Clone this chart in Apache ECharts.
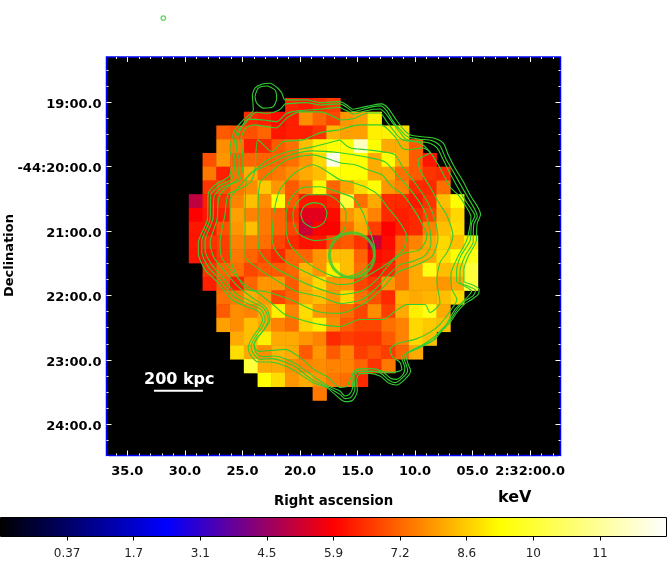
<!DOCTYPE html>
<html><head><meta charset="utf-8"><style>html,body{margin:0;background:#fff}#c{width:667px;height:561px}</style>
<script src="https://cdn.jsdelivr.net/npm/echarts@6/dist/echarts.min.js"></script></head><body><div id="c"></div>
<script>
// temperature map in keV: first image column of each image row, then its values
const rowFirstColumn=[13,10,8,8,7,7,7,6,6,6,6,6,7,7,8,8,8,9,9,10,11,15];
const firstRow=3, imageColumns=33, imageRows=29;
const rowKeV=[
[6.2,6.0,6.3,6.5],
[6.26,6.12,5.86,6.12,7.57,7.04,6.65,7.7,7.83,8.88],
[6.91,6.78,6.78,7.04,6.0,6.12,6.12,6.39,8.1,7.83,7.83,8.88,8.88,8.62],
[7.57,7.31,6.12,6.26,6.91,7.18,8.23,8.88,9.07,9.07,11.57,9.07,7.96,7.96,6.91],
[6.78,7.7,6.91,7.04,7.04,7.04,7.18,7.7,8.56,12.1,9.07,9.07,7.96,9.07,7.96,6.91,6.0],
[7.31,6.12,7.18,7.96,7.18,7.31,7.57,7.96,8.23,9.33,9.07,9.07,7.96,7.96,7.18,6.91,6.39,6.26],
[6.39,6.78,7.31,7.57,8.36,7.7,6.91,7.44,8.95,7.04,7.83,8.62,9.07,7.7,7.44,6.26,6.26,7.18],
[4.88,6.12,6.39,7.44,8.23,7.57,9.2,6.91,6.0,6.0,6.26,9.86,7.18,7.96,6.26,6.26,6.0,6.39,8.23,9.07],
[5.73,6.0,6.12,7.83,7.44,7.31,7.04,6.39,5.34,5.34,5.86,7.7,8.1,7.44,6.26,6.12,6.26,6.65,7.96,8.56],
[6.0,6.0,6.78,7.7,8.23,7.31,7.04,6.65,5.05,5.73,5.73,7.18,7.96,6.52,5.73,6.12,6.26,7.44,8.23,8.62],
[6.0,6.39,6.52,7.44,7.31,7.18,6.65,6.26,5.93,6.0,6.78,6.91,6.39,5.01,5.86,7.04,7.44,7.96,8.56,8.23,8.88],
[6.0,6.12,6.52,7.31,7.04,6.65,6.26,7.04,7.04,7.7,8.23,8.23,7.04,5.86,6.0,7.18,7.96,7.96,8.62,9.07,9.33],
[6.39,7.04,7.18,6.65,6.91,6.91,7.04,8.1,7.7,8.88,8.23,7.18,6.0,6.26,7.18,7.96,9.33,8.23,8.36,9.86],
[6.12,6.91,6.12,7.04,7.7,7.7,6.91,7.96,8.56,7.7,7.7,6.65,6.39,7.7,7.18,7.96,7.96,7.7,7.96,9.86],
[7.18,7.31,7.96,7.7,6.65,7.04,7.96,8.23,7.7,8.56,7.18,6.78,6.26,8.1,7.96,8.1,8.23,8.56],
[6.91,7.57,7.44,7.96,8.88,7.44,8.62,7.7,7.44,7.18,6.65,7.57,6.52,7.96,8.88,9.33,7.96],
[7.83,7.57,8.23,7.96,7.44,7.18,8.49,8.88,7.57,6.91,6.65,6.65,7.18,7.44,8.56,8.36,8.23],
[7.96,8.23,8.88,7.96,7.96,7.7,7.44,6.26,6.52,6.39,6.39,6.91,7.44,8.56,8.23],
[8.62,7.96,7.57,8.1,7.96,6.91,7.7,6.91,7.44,6.52,6.78,6.52,7.04,7.96],
[9.86,7.96,7.96,7.57,7.44,7.57,7.44,7.44,7.04,6.39,7.31],
[9.07,8.62,7.7,7.96,7.7,7.31,7.18,6.26],
[7.31]];
// contours, in image-bin coordinates (x, y, x, y ...)
const contourA=[10.60,2.76,10.79,2.27,11.28,1.98,11.88,1.91,12.37,2.20,12.73,2.59,12.97,3.12,14.55,3.12,15.52,3.32,16.97,3.25,17.46,3.49,17.94,3.80,18.66,3.65,19.39,3.49,20.0,3.41,20.48,3.73,20.97,4.45,21.57,5.25,22.06,5.66,22.78,5.79,23.75,5.90,24.48,6.27,24.84,7.12,25.33,8.08,25.93,9.06,26.42,10.02,27.02,10.99,27.19,11.47,26.95,12.08,26.90,13.05,26.90,13.29,26.29,14.50,25.98,15.47,25.98,16.32,26.54,16.56,27.09,16.92,27.02,17.28,26.54,17.65,25.98,18.01,25.45,18.61,24.96,19.34,24.24,20.07,23.87,20.55,23.02,20.99,22.18,21.40,21.74,21.64,21.93,22.37,22.11,22.85,21.69,23.46,21.09,23.87,20.48,23.70,19.88,23.22,19.15,23.02,18.42,23.04,18.18,23.46,18.23,24.31,17.89,24.98,17.33,25.08,16.97,24.87,16.0,24.06,15.03,23.70,13.70,22.85,12.85,22.44,11.88,22.20,11.03,22.20,10.55,21.81,10.30,21.15,10.55,20.50,11.10,19.70,11.35,19.10,11.03,18.50,10.07,18.13,9.10,17.65,8.12,16.43,7.16,15.47,6.67,14.26,6.67,13.53,7.33,11.84,7.40,9.90,8.01,9.22,8.92,8.69,9.10,7.48,8.97,6.75,9.34,5.30,9.94,4.58,10.67,3.85];
const contourB=[12.97,3.41,14.55,3.32,15.52,3.49,16.97,3.41,17.46,3.65,17.94,3.97,18.66,3.80,19.39,3.61,19.93,3.56,20.36,3.90,20.80,4.63,21.45,5.42,21.93,5.83,22.78,5.98,23.63,6.08,24.24,6.46,24.65,7.36,25.20,8.33,25.74,9.30,26.29,10.26,26.78,11.11,26.95,11.60,26.71,12.13,26.66,13.05,26.66,13.41,26.05,14.50,25.69,15.59,25.69,16.39,26.29,16.68,26.83,16.97,26.66,17.36,26.05,17.77,25.57,18.25,25.09,18.98,24.72,19.46,24.0,20.19,23.75,20.60,22.91,21.08,21.93,21.52,21.57,21.76,21.82,22.49,21.89,22.85,21.53,23.33,20.97,23.70,20.53,23.53,19.93,23.02,19.15,22.85,18.30,22.90,17.99,23.33,18.06,24.18,17.75,24.79,17.33,24.86,16.97,24.55,15.76,23.87,14.91,23.46,13.82,22.61,12.97,22.20,12.01,21.95,11.16,22.0,10.72,21.64,10.50,21.08,10.79,20.43,11.28,19.70,11.54,19.10,11.23,18.37,10.31,17.96,9.22,17.41,8.30,16.25,7.40,15.27,6.92,14.14,6.92,13.41,7.52,11.84,7.59,10.02,8.20,9.37,9.10,8.86,9.34,7.48,9.22,6.75,9.51,5.42,10.14,4.77,10.87,4.02,11.69,4.09,12.49,3.90];
const contourC=[16.97,3.65,15.52,3.80,14.06,3.90,13.10,4.09,12.37,4.70,11.40,4.58,10.31,4.52,9.58,5.66,9.46,6.75,9.65,7.48,9.46,8.93,8.37,9.54,7.83,10.15,7.72,11.84,7.16,13.41,7.16,14.02,7.65,15.11,8.49,16.07,9.34,17.16,10.48,17.77,11.40,18.25,11.76,19.10,11.45,19.83,10.96,20.43,10.72,21.08,10.96,21.64,11.40,21.81,12.12,21.76,13.10,22.0,13.94,22.44,15.03,23.22,15.64,23.65,16.12,23.94,16.97,24.31,17.33,24.67,17.65,24.55,17.89,24.06,17.82,23.26,18.18,22.73,19.15,22.68,20.0,22.85,20.65,23.38,21.09,23.46,21.57,23.09,21.69,22.61,21.45,21.88,22.06,21.40,23.02,20.92,23.75,20.43,24.48,19.83,24.84,19.22,25.33,18.37,25.81,17.89,26.29,17.41,26.54,17.04,26.05,16.68,25.45,16.32,25.45,15.59,25.74,14.50,26.42,13.41,26.47,13.05,26.54,12.08,26.78,11.55,26.54,11.11,26.05,10.38,25.49,9.42,24.96,8.45,24.48,7.48,24.04,6.63,23.51,6.27,22.66,6.15,21.82,6.03,21.28,5.42,20.73,4.70,20.24,4.05,19.88,3.78,19.39,3.80,18.66,3.97,17.94,4.16,17.46,3.90];
const contourHole=[10.79,2.88,11.03,2.27,11.64,2.11,12.25,2.40,12.37,3.00,12.12,3.61,11.40,3.72,10.92,3.36];
const contourD=[16.97,4.58,17.91,4.50,19.0,4.07,19.88,4.07,20.38,4.72,21.11,5.66,21.55,6.03,22.78,6.25,23.51,6.90,24.24,8.06,24.96,9.44,25.55,10.02,26.05,10.75,26.49,11.62,26.20,13.29,25.55,14.52,25.04,15.83,25.11,16.92,25.47,17.65,24.96,18.52,24.24,19.46,23.51,20.04,22.42,20.55,21.18,20.84,20.60,21.28,20.82,21.86,21.33,22.22,21.47,22.73,20.82,22.95,19.37,22.88,18.20,22.88,17.70,23.46,17.48,23.97,16.97,24.04,16.10,23.31,15.08,22.73,14.06,21.86,12.97,21.28,11.95,21.35,11.01,21.42,10.72,20.92,11.01,20.41,11.88,19.10,11.59,18.23,10.57,17.50,9.56,16.70,8.61,15.61,7.81,14.60,7.52,13.51,8.03,11.84,8.18,10.17,8.98,9.30,9.70,8.93,9.92,7.48,9.77,6.03,10.14,5.16,10.79,4.94,12.32,5.16,13.12,4.43,14.06,3.99,15.52,3.99];
const contourE=[16.97,5.30,18.42,4.94,19.95,4.94,20.97,5.81,21.47,6.61,21.91,6.75,23.0,6.61,23.51,6.97,22.64,7.48,22.78,8.21,23.51,9.44,24.24,10.75,24.75,11.55,25.18,13.0,24.75,14.23,24.24,14.96,24.02,16.41,24.24,17.86,23.51,18.59,23.15,18.01,21.84,18.01,20.97,18.52,20.09,19.10,18.42,19.10,16.97,19.61,15.52,19.46,14.06,19.10,12.97,18.74,12.10,18.01,11.16,17.28,10.07,16.56,9.12,15.61,8.39,14.60,8.25,13.51,8.61,11.47,8.83,10.02,9.56,9.66,10.43,9.15,10.79,8.21,11.01,6.03,12.03,6.90,12.83,6.17,14.28,6.03,15.52,5.52];
const contourF=[16.97,6.03,17.70,6.61,18.93,6.75,20.09,6.90,20.97,7.12,21.55,8.06,22.42,9.15,23.36,10.60,23.87,11.84,24.09,13.29,23.66,14.52,22.93,14.96,22.06,15.32,21.11,15.69,20.09,16.78,19.15,17.65,18.20,18.23,16.97,18.66,15.30,18.52,13.34,17.65,11.52,17.07,10.21,16.92,9.12,15.10,8.98,13.29,8.98,10.38,9.34,9.80,10.07,8.93,10.79,8.21,11.74,7.48,13.12,6.90,15.0,6.54];
const contourG=[10.07,13.29,10.14,8.93,10.65,8.35,11.74,7.84,13.12,7.19,15.0,6.83,16.97,6.97,18.79,7.26,20.24,7.63,21.11,8.57,22.20,9.80,23.07,11.11,23.51,12.56,23.58,13.65,23.15,14.45,22.20,14.89,21.33,15.11,20.46,15.90,19.51,16.92,18.57,17.65,16.97,17.94,15.52,17.43,13.84,17.07,12.61,16.41,11.16,15.47,10.07,14.52];
const contourH=[11.01,13.29,11.01,11.33,11.16,9.15,11.88,8.42,13.12,7.48,15.0,7.12,16.97,7.70,18.06,7.84,19.0,8.21,20.02,8.57,20.75,9.44,21.55,10.02,22.20,10.89,22.78,11.84,23.29,13.07,22.78,14.02,21.55,14.31,20.60,15.03,19.66,16.19,18.64,16.99,16.97,17.28,15.0,16.70,13.55,16.05,12.10,15.25,11.16,14.23];
const contourI=[12.03,13.29,12.17,11.33,12.61,9.66,13.70,8.42,15.0,7.84,16.97,8.93,17.70,9.08,18.93,9.51,19.73,10.02,20.46,10.97,21.18,11.84,21.84,13.07,21.55,14.02,20.60,14.89,19.51,15.61,18.06,16.41,16.97,16.56,16.02,16.34,14.57,15.69,13.12,14.96,12.25,14.02];
const contourJ=[13.05,11.33,13.34,10.38,14.21,9.51,15.52,9.44,16.97,9.88,17.91,10.24,18.64,11.33,19.0,12.35,19.29,13.07,19.51,14.02,19.37,14.74,18.42,15.69,16.97,16.05,14.79,15.11,13.34,13.65,13.05,12.56];
const contourK=[13.55,11.33,13.84,10.60,14.64,10.02,16.02,10.02,16.97,10.60,17.41,11.33,17.33,12.42,16.61,13.14,15.15,13.36,14.06,12.93,13.63,12.20];
const contourL=[15.08,10.60,15.73,10.75,16.02,11.33,15.81,12.06,15.08,12.42,14.35,12.06,14.13,11.40,14.43,10.82];
const contours=[contourA,contourB,contourC,contourHole,contourD,contourE,contourF,contourG,contourH,contourI,contourJ,contourK,contourL];
const regionCentre=[17.84,14.42], compassPoint=[4.13,-2.83];
const scaleBar=[[3.45,24.29],[7.01,24.29]];
// axis ticks
const raTicks=[35,30,25,20,15,10,5,0];
const raLabels=['35.0','30.0','25.0','20.0','15.0','10.0','05.0','2:32:00.0'];
const decTicks=[19,20,21,22,23,24];
const decLabels=['19:00.0','-44:20:00.0','21:00.0','22:00.0','23:00.0','24:00.0'];
const colourbarLabels=['','0.37','1.7','3.1','4.5','5.9','7.2','8.6','10','11',''];
const keVMin=-0.97, keVMax=12.42;

const GREEN='#32cd32', FONT='"DejaVu Sans"';
const cells=[];
rowKeV.forEach((row,r)=>row.forEach((v,i)=>cells.push([rowFirstColumn[r]+i,firstRow+r,v])));
const bins=n=>Array.from({length:n},(_,i)=>i);
const toPairs=a=>{const p=[];for(let i=0;i<a.length;i+=2)p.push([a[i],a[i+1]]);p.push([a[0],a[1]]);return p;};
const hidden={show:false};
const hv=(g,extra)=>Object.assign({type:'value',gridIndex:g,show:false,splitLine:hidden},extra||{});
const tickAxis=(extra)=>Object.assign({type:'value',axisLine:hidden,splitLine:hidden,
  axisTick:{show:true,inside:true,length:5,lineStyle:{color:'#fff',width:1}},
  minorTick:{show:true,length:2,lineStyle:{color:'#fff',width:1}}},extra);
const chart=echarts.init(document.getElementById('c'),null,{renderer:'canvas'});
const frame={outerBoundsMode:'none',containLabel:false};
chart.setOption({
 animation:false,backgroundColor:'#fff',
 grid:[
  {...frame,left:106.5,top:57,width:454,height:398.5,show:true,backgroundColor:'#000',borderColor:'#0000ff',borderWidth:1.5},
  {...frame,left:106.5,top:57,width:454,height:398.5},
  {...frame,left:69.8,top:57,width:517.9,height:398.5},
  {...frame,left:106.5,top:37.9,width:454,height:450.8},
  {...frame,left:0.5,top:517.5,width:666,height:19,show:true,borderColor:'#000',borderWidth:1,z:10},
  {...frame,left:106.5,top:40.2,width:454,height:450.8}
 ],
 xAxis:[
  {type:'category',gridIndex:0,data:bins(imageColumns),show:false},
  hv(1,{min:0,max:imageColumns}),
  tickAxis({gridIndex:2,position:'bottom',min:-5,max:40,interval:5,inverse:true,minorTick:{show:true,splitNumber:5,length:2,lineStyle:{color:'#fff',width:1}},
    axisLabel:{show:true,margin:10,color:'#000',fontFamily:FONT,fontWeight:'bold',fontSize:13,hideOverlap:false,
      formatter:v=>{const i=raTicks.indexOf(v);return i<0?'':raLabels[i];}}}),
  tickAxis({gridIndex:2,position:'top',min:-5,max:40,interval:5,inverse:true,axisLabel:hidden,minorTick:{show:true,splitNumber:5,length:2,lineStyle:{color:'#fff',width:1}}}),
  hv(3,{min:0,max:1}),
  {type:'category',gridIndex:4,data:colourbarLabels,boundaryGap:false,axisLine:hidden,splitLine:hidden,
    axisTick:{show:true,length:4,alignWithLabel:true,lineStyle:{color:'#000'},interval:(i)=>i>0&&i<10},
    axisLabel:{interval:0,margin:11,color:'#222',fontFamily:FONT,fontSize:12}},
  hv(5,{min:0,max:1})
 ],
 yAxis:[
  {type:'category',gridIndex:0,data:bins(imageRows),inverse:true,show:false},
  hv(1,{min:0,max:imageRows,inverse:true}),
  hv(2,{min:0,max:1}),
  tickAxis({gridIndex:3,position:'left',min:18,max:25,interval:1,inverse:true,axisLabel:hidden,minorTick:{show:true,splitNumber:4,length:2,lineStyle:{color:'#fff',width:1}}}),
  tickAxis({gridIndex:3,position:'right',min:18,max:25,interval:1,inverse:true,axisLabel:hidden,minorTick:{show:true,splitNumber:4,length:2,lineStyle:{color:'#fff',width:1}}}),
  hv(4,{min:0,max:1}),
  {type:'value',gridIndex:5,position:'left',min:18,max:25,interval:1,inverse:true,axisLine:hidden,axisTick:hidden,splitLine:hidden,
    axisLabel:{show:true,margin:5,color:'#000',fontFamily:FONT,fontWeight:'bold',fontSize:13,hideOverlap:false,
      formatter:v=>{const i=decTicks.indexOf(v);return i<0?'':decLabels[i];}}}
 ],
 visualMap:{type:'continuous',seriesIndex:0,min:keVMin,max:keVMax,orient:'horizontal',left:0,top:517,padding:0,itemWidth:19.5,itemHeight:666.5,
   calculable:false,realtime:false,text:null,showLabel:false,hoverLink:false,z:1,
   textStyle:{color:'transparent',fontSize:1},
   inRange:{color:['#000000','#0000ff','#ff0000','#ffff00','#ffffff']}},
 series:[
  {type:'heatmap',xAxisIndex:0,yAxisIndex:0,data:cells,silent:true,progressive:0,itemStyle:{borderWidth:0}},
  ...contours.map(c=>({type:'line',xAxisIndex:1,yAxisIndex:1,data:toPairs(c),showSymbol:false,silent:true,smooth:0.25,clip:false,
     lineStyle:{color:GREEN,width:1.1}})),
  {type:'scatter',xAxisIndex:1,yAxisIndex:1,data:[regionCentre],symbol:'circle',symbolSize:45,silent:true,
     itemStyle:{color:'rgba(0,0,0,0)',borderColor:GREEN,borderWidth:3}},
  {type:'scatter',xAxisIndex:1,yAxisIndex:1,data:[compassPoint],symbol:'circle',symbolSize:4.5,clip:false,silent:true,
     itemStyle:{color:'rgba(0,0,0,0)',borderColor:GREEN,borderWidth:1.2}},
  {type:'line',xAxisIndex:1,yAxisIndex:1,data:scaleBar,showSymbol:false,silent:true,lineStyle:{color:'#fff',width:2}}
 ],
 graphic:[
  {type:'text',left:144,top:372,z:20,style:{text:'200 kpc',fill:'#fff',font:'bold 16px '+FONT}},
  {type:'text',left:274,top:495,style:{text:'Right ascension',fill:'#000',font:'bold 13.3px '+FONT}},
  {type:'text',left:498,top:490,style:{text:'keV',fill:'#000',font:'bold 16px '+FONT}},
  {type:'text',left:3,top:214,rotation:Math.PI/2,style:{text:'Declination',fill:'#000',font:'bold 13px '+FONT}}
 ]
});
</script></body></html>
